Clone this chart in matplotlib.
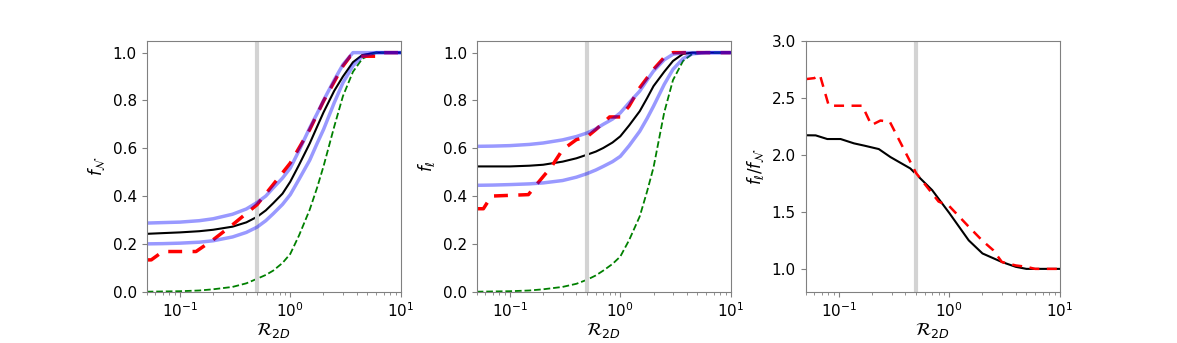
import matplotlib.pyplot as plt

# common radius grid for the smooth curves
r_grid = [0.05, 0.07, 0.1, 0.15, 0.2, 0.3, 0.4, 0.5, 0.6, 0.7, 0.85, 1.0, 1.2, 1.5,
          1.75, 2.0, 2.5, 3.0, 3.7, 4.5, 6.0, 10.0]

# panel 1: f_N
fN_mean = [0.242, 0.245, 0.248, 0.253, 0.259, 0.272, 0.29, 0.313, 0.34, 0.37, 0.41, 0.46,
           0.53, 0.62, 0.69, 0.75, 0.84, 0.90, 0.96, 0.99, 1.0, 1.0]
fN_hi = [0.287, 0.289, 0.291, 0.297, 0.305, 0.324, 0.346, 0.373, 0.40, 0.434, 0.475, 0.517,
         0.59, 0.685, 0.745, 0.80, 0.885, 0.95, 1.0, 1.0, 1.0, 1.0]
fN_lo = [0.20, 0.201, 0.203, 0.207, 0.213, 0.229, 0.248, 0.27, 0.297, 0.326, 0.365, 0.406,
         0.47, 0.55, 0.62, 0.678, 0.79, 0.874, 0.945, 0.985, 1.0, 1.0]
fN_model = [0.0, 0.001, 0.002, 0.005, 0.01, 0.02, 0.035, 0.054, 0.07, 0.088, 0.12, 0.158,
            0.235, 0.343, 0.435, 0.524, 0.69, 0.818, 0.92, 0.975, 1.0, 1.0]
fN_obs_r = [0.05, 0.055, 0.07, 0.14, 0.2, 0.3, 0.5, 0.7, 1.0, 1.5, 2.0, 3.0, 3.5, 6.0, 6.5, 10.0]
fN_obs = [0.133, 0.133, 0.168, 0.168, 0.217, 0.28, 0.364, 0.448, 0.538, 0.678, 0.797, 0.944,
          0.985, 0.985, 1.0, 1.0]

# panel 2: f_ell
fl_mean = [0.524, 0.524, 0.524, 0.527, 0.531, 0.544, 0.558, 0.573, 0.586, 0.601, 0.624, 0.65,
           0.695, 0.755, 0.81, 0.86, 0.92, 0.965, 0.995, 1.0, 1.0, 1.0]
fl_hi = [0.608, 0.609, 0.611, 0.616, 0.622, 0.635, 0.649, 0.664, 0.681, 0.70, 0.722, 0.748,
         0.79, 0.839, 0.885, 0.923, 0.97, 0.993, 1.0, 1.0, 1.0, 1.0]
fl_lo = [0.445, 0.446, 0.448, 0.451, 0.455, 0.465, 0.479, 0.494, 0.509, 0.524, 0.544, 0.566,
         0.61, 0.671, 0.725, 0.776, 0.867, 0.93, 0.975, 0.995, 1.0, 1.0]
fl_model = [0.0, 0.001, 0.002, 0.005, 0.01, 0.02, 0.033, 0.05, 0.068, 0.088, 0.116, 0.147,
            0.215, 0.315, 0.42, 0.52, 0.75, 0.885, 0.965, 0.995, 1.0, 1.0]
fl_obs_r = [0.05, 0.0575, 0.068, 0.147, 0.18, 0.238, 0.3, 0.4, 0.5, 0.6, 0.7, 0.8, 1.0, 1.2,
            1.5, 2.0, 2.5, 3.0, 10.0]
fl_obs = [0.347, 0.347, 0.40, 0.406, 0.456, 0.523, 0.594, 0.636, 0.648, 0.678, 0.706, 0.731,
          0.731, 0.776, 0.853, 0.93, 0.98, 1.0, 1.0]

# panel 3: ratio f_ell / f_N
ratio_r = [0.05, 0.0616, 0.0785, 0.1036, 0.137, 0.17, 0.23, 0.293, 0.444, 0.5, 0.7, 1.0,
           1.5, 2.0, 3.0, 4.0, 5.0, 10.0]
ratio_mean = [2.171, 2.17, 2.138, 2.138, 2.10, 2.08, 2.05, 1.98, 1.88, 1.83, 1.69, 1.49,
              1.25, 1.135, 1.06, 1.018, 1.0, 1.0]
ratio_obs_r = [0.05, 0.06, 0.0673, 0.081, 0.1, 0.163, 0.197, 0.238, 0.289, 0.5, 0.8, 1.0,
               1.5, 2.0, 2.5, 3.0, 4.0, 5.0, 6.0, 10.0]
ratio_obs = [2.663, 2.672, 2.70, 2.43, 2.43, 2.43, 2.26, 2.30, 2.29, 1.84, 1.59, 1.55,
             1.37, 1.246, 1.164, 1.06, 1.03, 1.018, 1.0, 1.0]

r_mark = 0.5

fig = plt.figure(figsize=(11.77, 3.43), dpi=100)
lefts = [0.1246, 0.405, 0.6845]
axes = [fig.add_axes([l, 0.1496, 0.2158, 0.7318]) for l in lefts]

panels = [
    (fN_mean, fN_hi, fN_lo, fN_model, fN_obs_r, fN_obs, r'$f_\mathcal{N}$'),
    (fl_mean, fl_hi, fl_lo, fl_model, fl_obs_r, fl_obs, r'$f_\ell$'),
]

for ax, (mean, hi, lo, model, obs_r, obs, lab) in zip(axes[:2], panels):
    ax.plot(r_grid, mean, color='black', lw=1.5)
    ax.plot(r_grid, model, color='green', lw=1.3, ls='--')
    ax.axvline(r_mark, color='lightgray', lw=3)
    ax.plot(obs_r, obs, color='red', lw=2.5, ls=(0, (4, 3)))
    ax.plot(r_grid, hi, color='blue', lw=2.5, alpha=0.4)
    ax.plot(r_grid, lo, color='blue', lw=2.5, alpha=0.4)
    ax.set_ylim(0, 1.05)
    ax.set_ylabel(lab, fontsize=12)

ax = axes[2]
ax.plot(ratio_r, ratio_mean, color='black', lw=1.5)
ax.axvline(r_mark, color='lightgray', lw=3)
ax.plot(ratio_obs_r, ratio_obs, color='red', lw=1.8, ls=(0, (4, 3)))
ax.set_ylim(0.8, 3.0)
ax.set_yticks([1.0, 1.5, 2.0, 2.5, 3.0])
ax.set_ylabel(r'$f_\ell/f_\mathcal{N}$', fontsize=12)

for ax in axes:
    ax.set_xscale('log')
    ax.set_xlim(0.05, 10)
    ax.set_xlabel(r'$\mathcal{R}_{2D}$', fontsize=13, labelpad=1)
    ax.tick_params(labelsize=11, color='gray')
    ax.tick_params(which='minor', color='gray')
    for s in ax.spines.values():
        s.set_color('gray')

plt.savefig('out.png', dpi=100)
